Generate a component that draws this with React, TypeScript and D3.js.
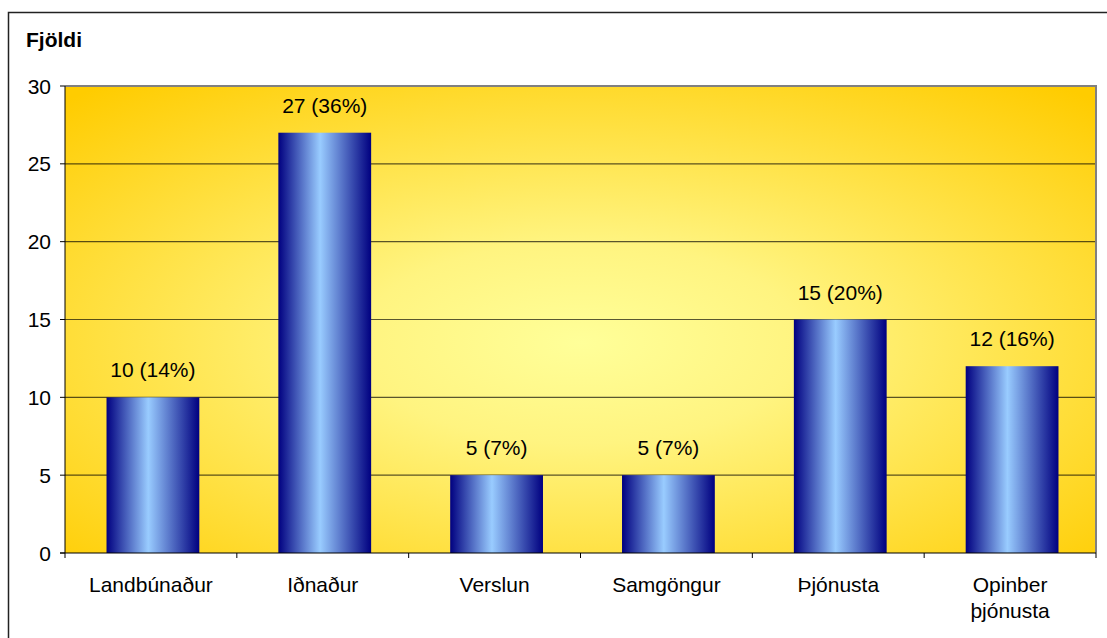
import React from "react";
import * as d3 from "d3";

const categories: string[][] = [
  ["Landbúnaður"],
  ["Iðnaður"],
  ["Verslun"],
  ["Samgöngur"],
  ["Þjónusta"],
  ["Opinber", "þjónusta"],
];
const values: number[] = [10, 27, 5, 5, 15, 12];
const percents: number[] = [14, 36, 7, 7, 20, 16];
const yTicks: number[] = [0, 5, 10, 15, 20, 25, 30];
const yTitle = "Fjöldi";

const W = 1107;
const H = 638;
const plot = { left: 65, right: 1096, top: 86, bottom: 553 };
const FONT = "'Liberation Sans', Arial, sans-serif";
const FS = 21;

export default function App() {
  const idx = categories.map((_, i) => String(i));
  const x = d3
    .scaleBand<string>()
    .domain(idx)
    .range([plot.left + 2, plot.right + 2])
    .paddingInner(0.46)
    .paddingOuter(0.23);
  const xOuter = d3.scaleBand<string>().domain(idx).range([plot.left, plot.right]);
  const y = d3.scaleLinear().domain([0, 30]).range([plot.bottom, plot.top]);

  return (
    <svg
      width={W}
      height={H}
      style={{ position: "absolute", left: 0, top: 0, background: "#fff" }}
      fontFamily={FONT}
    >
      <defs>
        <radialGradient id="bg" cx="0.5" cy="0.55" r="0.72">
          <stop offset="0" stopColor="#ffff99" />
          <stop offset="0.3" stopColor="#fff480" />
          <stop offset="1" stopColor="#ffcc00" />
        </radialGradient>
        <linearGradient id="bar" x1="0" x2="1" y1="0" y2="0">
          <stop offset="0" stopColor="#000080" />
          <stop offset="0.45" stopColor="#99ccff" />
          <stop offset="1" stopColor="#000080" />
        </linearGradient>
      </defs>
      <rect x={8.5} y={12.5} width={1300} height={800} fill="#fff" stroke="#222" strokeWidth={1.5} />
      <rect
        x={plot.left}
        y={plot.top}
        width={plot.right - plot.left}
        height={plot.bottom - plot.top}
        fill="url(#bg)"
      />
      {yTicks.slice(1).map((t) => (
        <line
          key={"g" + t}
          x1={plot.left}
          x2={plot.right}
          y1={y(t)}
          y2={y(t)}
          stroke="#000"
          strokeOpacity={0.65}
          strokeWidth={1.2}
        />
      ))}
      <path
        d={`M${plot.left},${plot.top}H${plot.right}V${plot.bottom}`}
        fill="none"
        stroke="#808080"
        strokeWidth={2}
      />
      {values.map((v, i) => (
        <rect
          key={"b" + i}
          x={x(String(i))}
          y={y(v)}
          width={x.bandwidth()}
          height={plot.bottom - y(v)}
          fill="url(#bar)"
        />
      ))}
      {values.map((v, i) => (
        <text
          key={"l" + i}
          x={(x(String(i)) as number) + x.bandwidth() / 2}
          y={y(v) - 20}
          textAnchor="middle"
          fontSize={FS}
          fill="#000"
        >
          {`${v} (${percents[i]}%)`}
        </text>
      ))}
      <line x1={plot.left} x2={plot.left} y1={plot.top} y2={plot.bottom} stroke="#000" strokeWidth={1} />
      <line x1={plot.left - 5} x2={plot.right} y1={plot.bottom} y2={plot.bottom} stroke="#000" strokeWidth={1.2} />
      {yTicks.map((t) => (
        <g key={"t" + t}>
          <line x1={plot.left - 5} x2={plot.left} y1={y(t)} y2={y(t)} stroke="#000" />
          <text x={51} y={y(t) + 7.5} textAnchor="end" fontSize={FS} fill="#000">
            {t}
          </text>
        </g>
      ))}
      {idx.concat(["end"]).map((k, i) => {
        const xx = i < idx.length ? (xOuter(k) as number) : plot.right;
        return <line key={"xt" + i} x1={xx} x2={xx} y1={plot.bottom} y2={plot.bottom + 5} stroke="#000" />;
      })}
      {categories.map((lines, i) => (
        <text
          key={"c" + i}
          x={(xOuter(String(i)) as number) + xOuter.bandwidth() / 2}
          y={592}
          textAnchor="middle"
          fontSize={FS}
          fill="#000"
        >
          {lines.map((ln, j) => (
            <tspan key={j} x={(xOuter(String(i)) as number) + xOuter.bandwidth() / 2} dy={j === 0 ? 0 : 26}>
              {ln}
            </tspan>
          ))}
        </text>
      ))}
      <text x={26} y={47} fontSize={FS} fontWeight="bold" fill="#000">
        {yTitle}
      </text>
    </svg>
  );
}
